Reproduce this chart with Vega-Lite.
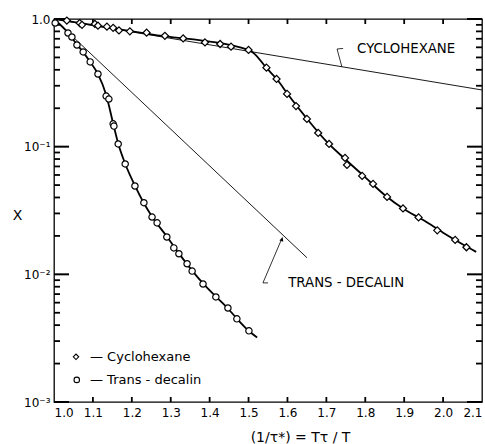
{
  "$schema": "https://vega.github.io/schema/vega-lite/v6.json",
  "width": 428,
  "height": 383,
  "autosize": "none",
  "padding": {"left": 54, "top": 19, "right": 3, "bottom": 42},
  "config": {
    "view": {"stroke": "#000", "strokeWidth": 1.3},
    "axis": {"domain": false, "grid": false, "ticks": false, "labelColor": "#000", "titleColor": "#000", "labelFont": "DejaVu Sans", "titleFont": "DejaVu Sans", "labelFontSize": 12, "titleFontWeight": "normal"}
  },
  "resolve": {"scale": {"x": "shared", "y": "shared"}, "axis": {"x": "independent", "y": "independent"}},
  "layer": [
    {
      "data": {"values": [{"x": 1.0, "y": 1.0}, {"x": 2.1, "y": 0.278}]},
      "mark": {"type": "line", "color": "#000", "strokeWidth": 0.9},
      "encoding": {
        "x": {"field": "x", "type": "quantitative", "scale": {"domain": [1.0, 2.1], "nice": false, "zero": false},
          "axis": {"orient": "bottom", "values": [1.0, 1.1, 1.2, 1.3, 1.4, 1.5, 1.6, 1.7, 1.8, 1.9, 2.0, 2.1], "format": ".1f", "labelPadding": 5, "title": "(1/τ*) = Tτ / T", "titleFontSize": 14, "titleX": 246, "titleY": 35, "titleBaseline": "middle", "titleAnchor": "middle", "labelFlush": true}},
        "y": {"field": "y", "type": "quantitative", "scale": {"type": "log", "domain": [0.001, 1], "nice": false},
          "axis": {"orient": "left", "values": [0.001, 0.01, 0.1, 1], "labelPadding": 4, "labelExpr": "datum.value > 0.5 ? '1.0' : datum.value > 0.05 ? '10⁻¹' : datum.value > 0.005 ? '10⁻²' : '10⁻³'", "labelFontSize": 12, "title": "X", "titleAngle": 0, "titleFontSize": 14, "titleX": -37, "titleY": 196, "titleBaseline": "middle", "titleAlign": "center", "labelFlush": false}}
      }
    },
    {
      "data": {"values": [{"x": 1.0, "y": 1.0}, {"x": 1.65, "y": 0.0135}]},
      "mark": {"type": "line", "color": "#000", "strokeWidth": 0.9},
      "encoding": {
        "x": {"field": "x", "type": "quantitative", "axis": null},
        "y": {"field": "y", "type": "quantitative", "axis": null}
      }
    },
    {
      "data": {"values": [{"v": 0.001}, {"v": 0.01}, {"v": 0.1}, {"v": 1}]},
      "mark": {"type": "rule", "color": "black", "strokeWidth": 2},
      "encoding": {"x": {"datum": 1.0, "type": "quantitative", "axis": null}, "x2": {"datum": 1.0386}, "y": {"field": "v", "type": "quantitative", "axis": null}}
    },
    {
      "data": {"values": [{"v": 0.001}, {"v": 0.01}, {"v": 0.1}, {"v": 1}]},
      "mark": {"type": "rule", "color": "black", "strokeWidth": 2},
      "encoding": {"x": {"datum": 2.0614, "type": "quantitative", "axis": null}, "x2": {"datum": 2.1}, "y": {"field": "v", "type": "quantitative", "axis": null}}
    },
    {
      "data": {"values": [{"v": 0.002}, {"v": 0.003}, {"v": 0.004}, {"v": 0.005}, {"v": 0.006}, {"v": 0.007}, {"v": 0.008}, {"v": 0.009},
        {"v": 0.02}, {"v": 0.03}, {"v": 0.04}, {"v": 0.05}, {"v": 0.06}, {"v": 0.07}, {"v": 0.08}, {"v": 0.09},
        {"v": 0.2}, {"v": 0.3}, {"v": 0.4}, {"v": 0.5}, {"v": 0.6}, {"v": 0.7}, {"v": 0.8}, {"v": 0.9}]},
      "mark": {"type": "rule", "color": "black", "strokeWidth": 1.8},
      "encoding": {"x": {"datum": 1.0, "type": "quantitative", "axis": null}, "x2": {"datum": 1.0154}, "y": {"field": "v", "type": "quantitative", "axis": null}}
    },
    {
      "data": {"values": [{"v": 0.002}, {"v": 0.003}, {"v": 0.004}, {"v": 0.005}, {"v": 0.006}, {"v": 0.007}, {"v": 0.008}, {"v": 0.009},
        {"v": 0.02}, {"v": 0.03}, {"v": 0.04}, {"v": 0.05}, {"v": 0.06}, {"v": 0.07}, {"v": 0.08}, {"v": 0.09},
        {"v": 0.2}, {"v": 0.3}, {"v": 0.4}, {"v": 0.5}, {"v": 0.6}, {"v": 0.7}, {"v": 0.8}, {"v": 0.9}]},
      "mark": {"type": "rule", "color": "black", "strokeWidth": 1.8},
      "encoding": {"x": {"datum": 2.0846, "type": "quantitative", "axis": null}, "x2": {"datum": 2.1}, "y": {"field": "v", "type": "quantitative", "axis": null}}
    },
    {
      "data": {"values": [{"v": 1.1}, {"v": 1.2}, {"v": 1.3}, {"v": 1.4}, {"v": 1.5}, {"v": 1.6}, {"v": 1.7}, {"v": 1.8}, {"v": 1.9}, {"v": 2.0}]},
      "mark": {"type": "rule", "color": "black", "strokeWidth": 1.8},
      "encoding": {"x": {"field": "v", "type": "quantitative", "axis": null}, "y": {"datum": 0.001, "type": "quantitative", "axis": null}, "y2": {"datum": 0.001094}}
    },
    {
      "data": {"values": [{"v": 1.1}, {"v": 1.2}, {"v": 1.3}, {"v": 1.4}, {"v": 1.5}, {"v": 1.6}, {"v": 1.7}, {"v": 1.8}, {"v": 1.9}, {"v": 2.0}]},
      "mark": {"type": "rule", "color": "black", "strokeWidth": 1.8},
      "encoding": {"x": {"field": "v", "type": "quantitative", "axis": null}, "y": {"datum": 0.9138, "type": "quantitative", "axis": null}, "y2": {"datum": 1.0}}
    },
    {
      "data": {"values": [
        {"x": 1.0, "y": 1.0}, {"x": 1.25, "y": 0.757}, {"x": 1.5, "y": 0.572}, {"x": 1.512, "y": 0.545},
        {"x": 1.546, "y": 0.414}, {"x": 1.573, "y": 0.337}, {"x": 1.6, "y": 0.26}, {"x": 1.65, "y": 0.166},
        {"x": 1.7, "y": 0.11}, {"x": 1.75, "y": 0.079}, {"x": 1.8, "y": 0.0575}, {"x": 1.85, "y": 0.0418},
        {"x": 1.9, "y": 0.0323}, {"x": 1.95, "y": 0.0265}, {"x": 2.0, "y": 0.0212}, {"x": 2.05, "y": 0.0172}, {"x": 2.085, "y": 0.015}
      ]},
      "mark": {"type": "line", "color": "#000", "strokeWidth": 1.8, "interpolate": "monotone"},
      "encoding": {
        "x": {"field": "x", "type": "quantitative", "axis": null},
        "y": {"field": "y", "type": "quantitative", "axis": null}
      }
    },
    {
      "data": {"values": [
        {"x": 1.0, "y": 1.0}, {"x": 1.036, "y": 0.78}, {"x": 1.059, "y": 0.63}, {"x": 1.075, "y": 0.55}, {"x": 1.093, "y": 0.46},
        {"x": 1.113, "y": 0.37}, {"x": 1.134, "y": 0.255}, {"x": 1.152, "y": 0.152}, {"x": 1.165, "y": 0.106}, {"x": 1.183, "y": 0.0735},
        {"x": 1.208, "y": 0.0495}, {"x": 1.229, "y": 0.037}, {"x": 1.252, "y": 0.0283}, {"x": 1.29, "y": 0.0198}, {"x": 1.321, "y": 0.0146},
        {"x": 1.355, "y": 0.0107}, {"x": 1.383, "y": 0.0085}, {"x": 1.416, "y": 0.0067}, {"x": 1.447, "y": 0.0054}, {"x": 1.47, "y": 0.0045},
        {"x": 1.501, "y": 0.0036}, {"x": 1.522, "y": 0.0032}
      ]},
      "mark": {"type": "line", "color": "#000", "strokeWidth": 1.8, "interpolate": "monotone"},
      "encoding": {
        "x": {"field": "x", "type": "quantitative", "axis": null},
        "y": {"field": "y", "type": "quantitative", "axis": null}
      }
    },
    {
      "data": {"values": [
        {"x": 1.033, "y": 0.973}, {"x": 1.066, "y": 0.93}, {"x": 1.072, "y": 0.9}, {"x": 1.105, "y": 0.914}, {"x": 1.113, "y": 0.886},
        {"x": 1.136, "y": 0.871}, {"x": 1.152, "y": 0.853}, {"x": 1.167, "y": 0.813}, {"x": 1.195, "y": 0.801}, {"x": 1.238, "y": 0.781},
        {"x": 1.285, "y": 0.739}, {"x": 1.332, "y": 0.704}, {"x": 1.388, "y": 0.655}, {"x": 1.427, "y": 0.637}, {"x": 1.455, "y": 0.607},
        {"x": 1.5, "y": 0.572}, {"x": 1.546, "y": 0.416}, {"x": 1.572, "y": 0.339}, {"x": 1.599, "y": 0.259}, {"x": 1.622, "y": 0.208},
        {"x": 1.65, "y": 0.165}, {"x": 1.679, "y": 0.128}, {"x": 1.707, "y": 0.105}, {"x": 1.748, "y": 0.0816}, {"x": 1.753, "y": 0.0719},
        {"x": 1.792, "y": 0.059}, {"x": 1.82, "y": 0.0511}, {"x": 1.856, "y": 0.0404}, {"x": 1.897, "y": 0.0328}, {"x": 1.937, "y": 0.0279},
        {"x": 1.985, "y": 0.0221}, {"x": 2.031, "y": 0.0186}, {"x": 2.06, "y": 0.0163}
      ]},
      "mark": {"type": "point", "shape": "diamond", "filled": true, "fill": "#fff", "stroke": "#000", "strokeWidth": 1.2, "size": 50, "opacity": 1},
      "encoding": {
        "x": {"field": "x", "type": "quantitative", "axis": null},
        "y": {"field": "y", "type": "quantitative", "axis": null}
      }
    },
    {
      "data": {"values": [
        {"x": 1.003, "y": 0.93}, {"x": 1.036, "y": 0.777}, {"x": 1.046, "y": 0.723}, {"x": 1.059, "y": 0.626}, {"x": 1.075, "y": 0.552},
        {"x": 1.093, "y": 0.461}, {"x": 1.113, "y": 0.371}, {"x": 1.134, "y": 0.249}, {"x": 1.141, "y": 0.236}, {"x": 1.152, "y": 0.151},
        {"x": 1.154, "y": 0.145}, {"x": 1.165, "y": 0.105}, {"x": 1.183, "y": 0.0732}, {"x": 1.208, "y": 0.0492}, {"x": 1.231, "y": 0.0364},
        {"x": 1.252, "y": 0.0281}, {"x": 1.265, "y": 0.0253}, {"x": 1.29, "y": 0.0196}, {"x": 1.308, "y": 0.0161}, {"x": 1.321, "y": 0.0145},
        {"x": 1.342, "y": 0.0121}, {"x": 1.355, "y": 0.0106}, {"x": 1.383, "y": 0.0084}, {"x": 1.416, "y": 0.00665}, {"x": 1.447, "y": 0.00545},
        {"x": 1.47, "y": 0.00448}, {"x": 1.501, "y": 0.00361}
      ]},
      "mark": {"type": "point", "shape": "circle", "filled": true, "fill": "#fff", "stroke": "#000", "strokeWidth": 1.2, "size": 40, "opacity": 1},
      "encoding": {
        "x": {"field": "x", "type": "quantitative", "axis": null},
        "y": {"field": "y", "type": "quantitative", "axis": null}
      }
    },
    {
      "data": {"values": [
        {"g": "c1", "x": 1.743, "y": 0.588}, {"g": "c1", "x": 1.7275, "y": 0.582}, {"g": "c1", "x": 1.74, "y": 0.421},
        {"g": "t1", "x": 1.55, "y": 0.00857}, {"g": "t1", "x": 1.537, "y": 0.00857}, {"g": "t1", "x": 1.587, "y": 0.0195}
      ]},
      "mark": {"type": "line", "color": "#000", "strokeWidth": 0.8},
      "encoding": {
        "x": {"field": "x", "type": "quantitative", "axis": null},
        "y": {"field": "y", "type": "quantitative", "axis": null},
        "detail": {"field": "g"},
        "order": {"field": "o"}
      }
    },
    {
      "data": {"values": [{"x": 1.586, "y": 0.0188}]},
      "mark": {"type": "point", "shape": "triangle-up", "filled": true, "color": "#000", "size": 18, "angle": 23, "opacity": 1},
      "encoding": {
        "x": {"field": "x", "type": "quantitative", "axis": null},
        "y": {"field": "y", "type": "quantitative", "axis": null}
      }
    },
    {
      "data": {"values": [
        {"x": 1.779, "y": 0.582, "t": "CYCLOHEXANE"},
        {"x": 1.602, "y": 0.00857, "t": "TRANS - DECALIN"}
      ]},
      "mark": {"type": "text", "align": "left", "baseline": "middle", "font": "DejaVu Sans", "fontSize": 13.3, "color": "#000"},
      "encoding": {
        "x": {"field": "x", "type": "quantitative", "axis": null},
        "y": {"field": "y", "type": "quantitative", "axis": null},
        "text": {"field": "t"}
      }
    },
    {
      "data": {"values": [
        {"x": 1.0925, "y": 0.00226, "t": "— Cyclohexane"},
        {"x": 1.0925, "y": 0.00149, "t": "— Trans - decalin"}
      ]},
      "mark": {"type": "text", "align": "left", "baseline": "middle", "font": "DejaVu Sans", "fontSize": 13, "color": "#000"},
      "encoding": {
        "x": {"field": "x", "type": "quantitative", "axis": null},
        "y": {"field": "y", "type": "quantitative", "axis": null},
        "text": {"field": "t"}
      }
    },
    {
      "data": {"values": [{"x": 1.0565, "y": 0.00226, "s": "diamond"}, {"x": 1.0585, "y": 0.00149, "s": "circle"}]},
      "mark": {"type": "point", "filled": true, "fill": "#fff", "stroke": "#000", "strokeWidth": 1.1, "size": 30, "opacity": 1},
      "encoding": {
        "x": {"field": "x", "type": "quantitative", "axis": null},
        "y": {"field": "y", "type": "quantitative", "axis": null},
        "shape": {"field": "s", "type": "nominal", "scale": {"domain": ["diamond", "circle"], "range": ["diamond", "circle"]}, "legend": null}
      }
    }
  ]
}
